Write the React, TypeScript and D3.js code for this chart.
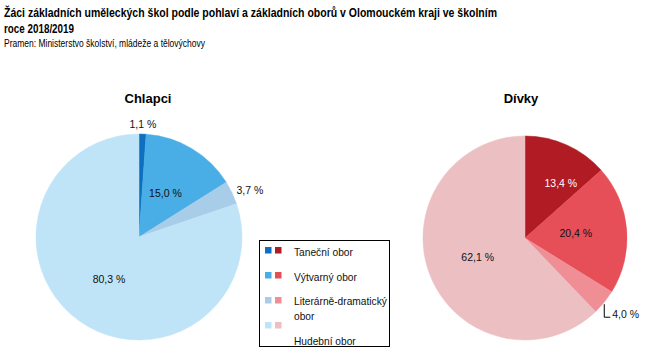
import React from "react";
import * as d3 from "d3";

// Data
const categories = ["Taneční obor", "Výtvarný obor", "Literárně-dramatický obor", "Hudební obor"];
const legendLines = [["Taneční obor"], ["Výtvarný obor"], ["Literárně-dramatický", "obor"], ["Hudební obor"]];
const boysValues = [1.1, 15.0, 3.7, 80.3];
const girlsValues = [13.4, 20.4, 4.0, 62.1];
const boysColors = ["#0d6fbd", "#49ade6", "#a7cde9", "#bfe4f7"];
const girlsColors = ["#b11b23", "#e64f58", "#f08e95", "#ecbfc3"];

const titleLines = [
  "Žáci základních uměleckých škol podle pohlaví a základních oborů v Olomouckém kraji ve školním",
  "roce 2018/2019",
];
const source = "Pramen: Ministerstvo školství, mládeže a tělovýchovy";

// label placement per slice
const boysLabelMode = ["outsideTop", "inside", "outsideRight", "inside"];
const girlsLabelMode = ["inside", "inside", "leader", "inside"];
const girlsNudge = [{ dx: 15, dy: -8 }, { dx: 0, dy: 0 }, { dx: 0, dy: 0 }, { dx: 0, dy: 0 }];
const noNudge = [0, 0, 0, 0].map(() => ({ dx: 0, dy: 0 }));

const FONT = "'Liberation Sans', Arial, sans-serif";
const fmt = (v: number) => v.toFixed(1).replace(".", ",") + " %";

type PieProps = {
  cx: number;
  cy: number;
  r: number;
  title: string;
  titleX: number;
  values: number[];
  colors: string[];
  modes: string[];
  nudge: { dx: number; dy: number }[];
};

const Pie = ({ cx, cy, r, title, titleX, values, colors, modes, nudge }: PieProps) => {
  const pie = d3.pie<number>().sort(null).startAngle(0).endAngle(2 * Math.PI);
  const arcs = pie(values);
  const arc = d3.arc<d3.PieArcDatum<number>>().innerRadius(0).outerRadius(r);

  return (
    <g>
      <text x={titleX} y={103} textAnchor="middle" fontFamily={FONT} fontWeight="bold" fontSize={13}>
        {title}
      </text>
      <g transform={`translate(${cx},${cy})`}>
        {arcs.map((a, i) => (
          <path key={i} d={arc(a) || ""} fill={colors[i]} stroke={colors[i]} strokeWidth={0.5} />
        ))}
        {arcs.map((a, i) => {
          const mid = (a.startAngle + a.endAngle) / 2;
          const mode = modes[i];
          const txt = fmt(values[i]);
          const white = colors === girlsColors && i === 0;
          if (mode === "inside") {
            const [x, y] = arc.centroid(a);
            return (
              <text key={i} x={x + nudge[i].dx} y={y + nudge[i].dy} dy="0.35em" textAnchor="middle"
                fontFamily={FONT} fontSize={10.5} fill={white ? "#fff" : "#111"}>
                {txt}
              </text>
            );
          }
          if (mode === "outsideTop") {
            const rr = r + 10;
            return (
              <text key={i} x={Math.sin(mid) * rr} y={-Math.cos(mid) * rr} dy="0.35em" textAnchor="middle"
                fontFamily={FONT} fontSize={10.5} fill="#111">
                {txt}
              </text>
            );
          }
          if (mode === "outsideRight") {
            const rr = r + 5;
            return (
              <text key={i} x={Math.sin(mid) * rr} y={-Math.cos(mid) * rr} dy="0.3em" textAnchor="start"
                fontFamily={FONT} fontSize={10.5} fill="#111">
                {txt}
              </text>
            );
          }
          // leader line label
          const px = Math.sin(mid) * r;
          const py = -Math.cos(mid) * r;
          const path = d3.path();
          path.moveTo(px, py + 2);
          path.lineTo(px, py + 15);
          path.lineTo(px + 6, py + 15);
          return (
            <g key={i}>
              <path d={path.toString()} fill="none" stroke="#000" strokeWidth={1} />
              <text x={px + 8} y={py + 16} textAnchor="start" fontFamily={FONT} fontSize={10.5} fill="#111">
                {txt}
              </text>
            </g>
          );
        })}
      </g>
    </g>
  );
};

const Legend = ({ x, y, w, h }: { x: number; y: number; w: number; h: number }) => {
  let extra = 0;
  return (
    <g>
      <rect x={x + 0.5} y={y + 0.5} width={w} height={h} fill="#fff" stroke="#000" strokeWidth={1} />
      {categories.map((c, i) => {
        const sqY = y + 7 + i * 25;
        const baseY = y + 16 + i * 24.5 + extra * 15;
        extra += legendLines[i].length - 1;
        return (
          <g key={c}>
            <rect x={x + 6} y={sqY} width={6.5} height={6.5} fill={boysColors[i]} />
            <rect x={x + 16} y={sqY} width={6.5} height={6.5} fill={girlsColors[i]} />
            {legendLines[i].map((ln, j) => (
              <text key={j} x={x + 35} y={baseY + j * 15} fontFamily={FONT} fontSize={10.2} fill="#111">
                {ln}
              </text>
            ))}
          </g>
        );
      })}
    </g>
  );
};

export default function App() {
  return (
    <svg width={663} height={354} style={{ position: "absolute", left: 0, top: 0, background: "#fff" }}>
      <text x={4} y={17} fontFamily={FONT} fontWeight="bold" fontSize={13} textLength={493} lengthAdjust="spacingAndGlyphs">
        {titleLines[0]}
      </text>
      <text x={4} y={33} fontFamily={FONT} fontWeight="bold" fontSize={13} textLength={70} lengthAdjust="spacingAndGlyphs">
        {titleLines[1]}
      </text>
      <text x={4} y={47} fontFamily={FONT} fontSize={10} textLength={201} lengthAdjust="spacingAndGlyphs">
        {source}
      </text>
      <Pie cx={139} cy={237} r={103} title="Chlapci" titleX={148} values={boysValues} colors={boysColors}
        modes={boysLabelMode} nudge={noNudge} />
      <Pie cx={525} cy={238} r={102} title="Dívky" titleX={521} values={girlsValues} colors={girlsColors}
        modes={girlsLabelMode} nudge={girlsNudge} />
      <Legend x={259} y={240} w={130} h={106} />
    </svg>
  );
}
